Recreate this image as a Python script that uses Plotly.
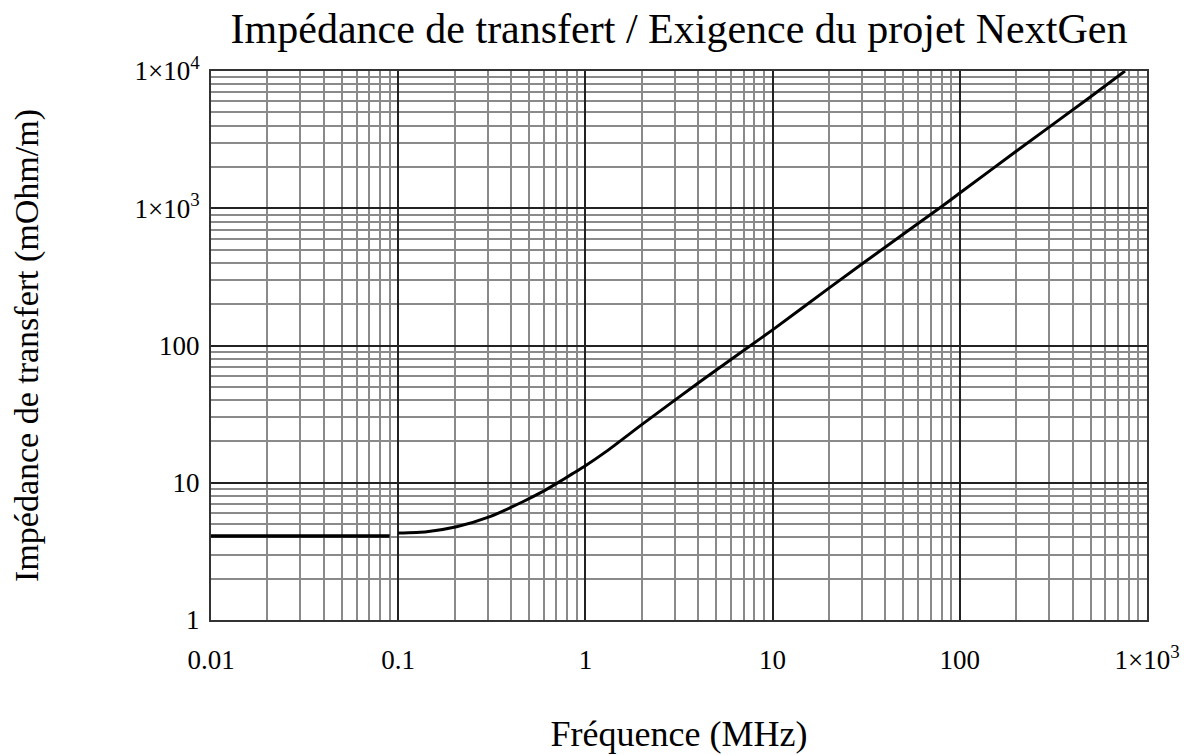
import plotly.graph_objects as go

# Transfer impedance requirement (frequency in MHz, impedance in mOhm/m)
freq_flat = [0.01, 0.09]
z_flat = [4.1, 4.1]

freq_curve = [0.1, 0.142, 0.205, 0.309, 0.466, 0.58, 0.703, 0.85, 1.0, 1.3, 2.0, 4.09, 10.0, 20.0, 50.0, 77.7, 100.0, 200.0, 500.0, 763.0]
z_curve = [4.3, 4.4, 4.78, 5.66, 7.3, 8.5, 9.9, 11.6, 13.3, 17.0, 26.5, 54.5, 130.0, 262.0, 650.0, 1000.0, 1290.0, 2600.0, 6500.0, 10000.0]

x_tickvals = [0.01, 0.1, 1, 10, 100, 1000]
x_ticktext = ["0.01", "0.1", "1", "10", "100", "1×10<sup>3</sup>"]
y_tickvals = [1, 10, 100, 1000, 10000]
y_ticktext = ["1", "10", "100", "1×10<sup>3</sup>", "1×10<sup>4</sup>"]

serif = "Liberation Serif, Times New Roman, serif"

fig = go.Figure()
fig.add_trace(go.Scatter(x=freq_flat, y=z_flat, mode="lines",
                         line=dict(color="black", width=3.5), showlegend=False))
fig.add_trace(go.Scatter(x=freq_curve, y=z_curve, mode="lines",
                         line=dict(color="black", width=3, shape="spline", smoothing=0.6), showlegend=False))

axis_common = dict(
    type="log", automargin=False,
    showline=True, mirror=True, linecolor="#333", linewidth=2,
    showgrid=True, gridcolor="#222", gridwidth=1.5,
    ticks="", zeroline=False,
    tickfont=dict(family=serif, size=27, color="black"),
    minor=dict(dtick="D1", showgrid=True, gridcolor="#8a8a8a", gridwidth=1.5, ticks=""),
)

fig.update_xaxes(range=[-2, 3], tickvals=x_tickvals, ticktext=x_ticktext,
                 ticklabelstandoff=15,
                 title=dict(text="Fréquence (MHz)", font=dict(family=serif, size=36, color="black"), standoff=46),
                 **axis_common)
fig.update_yaxes(range=[0, 4], tickvals=y_tickvals, ticktext=y_ticktext,
                 ticklabelstandoff=4,
                 title=dict(text="Impédance de transfert (mOhm/m)", font=dict(family=serif, size=34, color="black"), standoff=86),
                 **axis_common)

fig.update_layout(
    width=1193, height=755,
    margin=dict(l=211, r=46, t=71, b=135),
    paper_bgcolor="white", plot_bgcolor="white",
    title=dict(text="Impédance de transfert / Exigence du projet NextGen",
               font=dict(family=serif, size=42, color="black"),
               x=(211 + 1147) / 2 / 1193, xanchor="center", y=0.962, yanchor="middle"),
)

fig.write_html("out.html")
